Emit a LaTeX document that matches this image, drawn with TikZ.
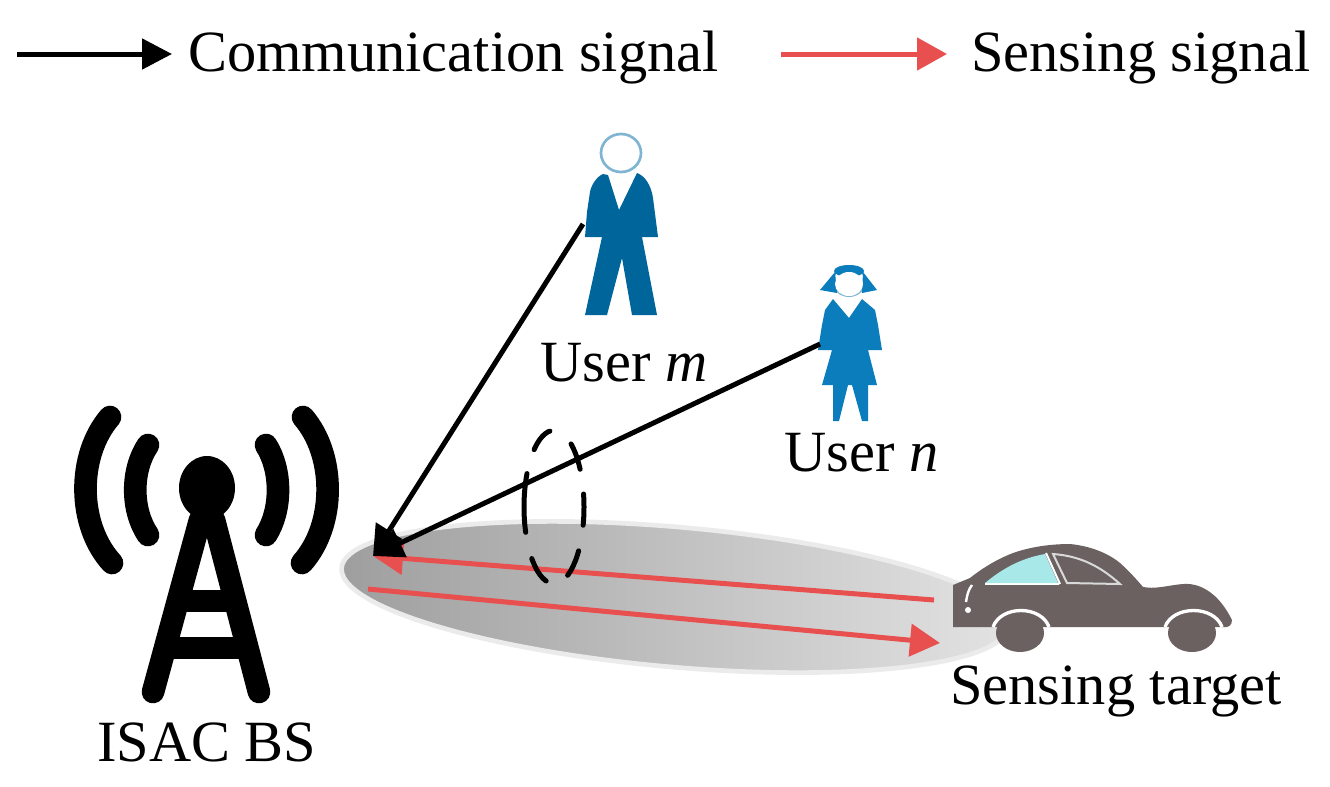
\documentclass[tikz,border=0pt]{standalone}
\usepackage{fontspec}
\setmainfont{Liberation Serif}
\usetikzlibrary{shapes.geometric, arrows.meta}
\definecolor{sensred}{HTML}{E8504F}
\definecolor{manblue}{HTML}{00659A}
\definecolor{womanblue}{HTML}{0B7DBD}
\definecolor{ringblue}{HTML}{7FB4D2}
\definecolor{cargray}{HTML}{6B6160}
\definecolor{glasscyan}{HTML}{A9E8E8}
\tikzstyle{txt} = [font=\fontsize{43.8}{50}\selectfont, inner sep=0pt, anchor=base west]
\tikzstyle{commarrow} = [line width=3.75pt,-{Triangle[length=22.5pt,width=22.5pt]}]
\tikzstyle{sensarrow} = [line width=3.75pt,draw=sensred,-{Triangle[length=22.5pt,width=24pt,color=sensred]}]
\tikzstyle{towerline} = [line width=17pt,line cap=round]
\tikzstyle{towerbar} = [line width=17pt]
\tikzstyle{beam} = [ellipse, inner sep=0pt, minimum width=502pt, minimum height=105pt, rotate=-5, left color=black!38, right color=black!11, draw=black!8, line width=3.5pt]
\tikzstyle{ring} = [ellipse, inner sep=0pt, minimum width=45pt, minimum height=115pt, draw=black, line width=3.75pt, line cap=round, dash pattern=on 20.25pt off 18.75pt on 20.25pt off 20.25pt on 18.75pt off 18.75pt on 44.25pt off 20.25pt on 20.25pt off 18.75pt on 20.25pt off 19.5pt, dash phase=10.5pt]
\begin{document}
\begin{tikzpicture}[x=0.75pt,y=-0.75pt]
	\useasboundingbox (0,0) rectangle (1330,786);
	% legend
	\coordinate (commstart) at (17,54);
	\coordinate (commend) at (172,54);
	\coordinate (sensstart) at (781,54);
	\coordinate (sensend) at (947,54);
	\node(commtext) [txt] at (188,71) {Communication signal};
	\node(senstext) [txt] at (971,71) {Sensing signal};
	\draw[commarrow] (commstart) -- (commend);
	\draw[sensarrow] (sensstart) -- (sensend);

	% base station
	\draw[towerline] (110,417) .. controls (77,455) and (77,525) .. (112,563);
	\draw[towerline] (148,445) .. controls (131,470) and (131,510) .. (148,535);
	\draw[towerline] (303,417) .. controls (336,455) and (336,525) .. (302,563);
	\draw[towerline] (266,445) .. controls (282,470) and (282,510) .. (266,535);
	\fill (207,488) ellipse [x radius=28, y radius=32];
	\draw[towerline] (153,692) -- (200,520);
	\draw[towerline] (259,692) -- (214,520);
	\draw[towerbar] (175,601) -- (239,601);
	\draw[towerbar] (162,648) -- (252,648);
	\node(bstext) [txt] at (97,761) {ISAC BS};

	% beam and target
	\node(sensbeam) [beam] at (675,597) {};
	\fill[cargray] (953,585) -- (970,578) .. controls (985,566) and (1000,558) .. (1013,553) .. controls (1030,547) and (1050,544) .. (1070,544) .. controls (1090,546) and (1108,553) .. (1120,563) .. controls (1130,572) and (1137,580) .. (1143,587) .. controls (1158,590) and (1175,583) .. (1190,584) .. controls (1205,586) and (1220,596) .. (1232,620) .. controls (1232,626) and (1228,628) .. (1222,627) -- (953,627) -- cycle;
	\draw[white,line width=2.5pt] (993,627) .. controls (1001,605) and (1041,605) .. (1049,627);
	\draw[white,line width=2.5pt] (1165,627) .. controls (1173,605) and (1214,605) .. (1222,627);
	\fill[cargray] (1020,633) ellipse [x radius=24, y radius=19];
	\fill[cargray] (1192,633) ellipse [x radius=24, y radius=19];
	\draw[white,line width=1.5pt] (985,584) -- (1059,584);
	\fill[glasscyan] (985,583) .. controls (1003,568) and (1022,558) .. (1045,554) -- (1058,583) -- cycle;
	\draw[white,line width=1.5pt] (1046,553) -- (1060,584);
	\draw[black!15,line width=1.5pt] (1053,554) .. controls (1080,556) and (1100,566) .. (1120,584) -- (1067,583) -- cycle;
	\draw[white,line width=1.8pt] (972,585) .. controls (968,590) and (967,596) .. (966,602);
	\fill[white] (968,610) circle (3);
	\node(targettext) [txt] at (950,704) {Sensing target};

	% users
	\draw[ringblue,line width=2pt] (621,153) ellipse [x radius=20, y radius=19];
	\fill[manblue] (603,174) .. controls (596,177) and (591,186) .. (590,192) -- (587,212) -- (585,237) -- (602,237) -- (585,315) -- (607,315) -- (622,258) -- (632,315) -- (657,315) -- (642,237) -- (658,237) -- (653,198) .. controls (651,185) and (645,176) .. (637,173) -- (619,210) -- (608,175) -- cycle;
	\node(usermtext) [txt] at (540,381) {User \textit{m}};
	\draw[ringblue,line width=1.5pt] (849,281) ellipse [x radius=16, y radius=15];
	\fill[womanblue] (849,271) ellipse [x radius=15, y radius=6];
	\fill[womanblue] (835,272) -- (820,290) -- (837,293) -- cycle;
	\fill[womanblue] (863,272) -- (877,290) -- (862,293) -- cycle;
	\fill[white] (849,284) ellipse [x radius=14, y radius=12];
	\fill[womanblue] (833,299) -- (825,310) -- (822,325) -- (818,350) -- (832,350) -- (822,385) -- (833,385) -- (833,421) -- (839,421) -- (848,385) -- (852,385) -- (862,421) -- (868,421) -- (868,385) -- (877,385) -- (868,350) -- (882,350) -- (878,325) -- (875,310) -- (862,299) -- (849,318) -- cycle;
	\node(userntext) [txt] at (784,471) {User \textit{n}};

	% connectors
	\coordinate (bstip) at (373,556);
	\coordinate (usermhand) at (583,224);
	\coordinate (usernhand) at (820,344);
	\coordinate (carback) at (934,600);
	\coordinate (beamstart) at (368,589);
	\coordinate (beamend) at (940,643);
	\draw[sensarrow] (carback) -- (bstip);
	\draw[sensarrow] (beamstart) -- (beamend);
	\draw[commarrow] (usermhand) -- (bstip);
	\draw[commarrow] (usernhand) -- (bstip);
	\node(groupring) [ring] at (554,507) {};
\end{tikzpicture}
\end{document}
